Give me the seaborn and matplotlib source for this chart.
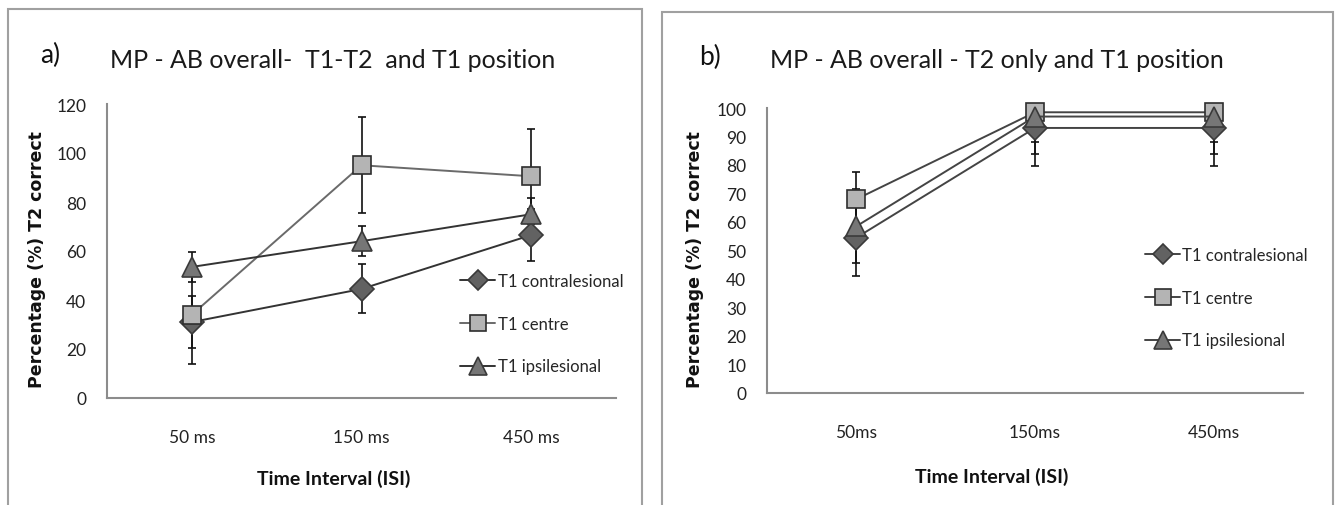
import matplotlib
matplotlib.use("Agg")
import matplotlib.pyplot as plt
import seaborn as sns
import pandas as pd
from matplotlib.patches import Rectangle

# ---------------- data ----------------
isi_a = ["50 ms", "150 ms", "450 ms"]
isi_b = ["50ms", "150ms", "450ms"]
series_names_a = ["T1 contralesional", "T1 centre", "T1 ipsilesional"]
series_names_b = ["T1 contralesional", "T1 centre", "T1 ipsilesional"]

a_contra = [31.0, 44.5, 66.5]
a_contra_err = [10.5, 10.0, 10.5]
a_centre = [34.0, 95.0, 90.5]
a_centre_err = [20.0, 19.6, 19.5]
a_ipsi = [53.5, 64.0, 75.0]
a_ipsi_err = [6.0, 6.2, 6.5]

b_contra = [54.5, 93.0, 93.0]
b_contra_err = [13.5, 13.5, 13.5]
b_centre = [68.0, 98.5, 98.5]
b_centre_err = [9.6, 10.3, 10.3]
b_ipsi = [58.5, 97.0, 97.0]
b_ipsi_err = [13.0, 13.0, 13.0]

yticks_a = [0, 20, 40, 60, 80, 100, 120]
yticks_b = [0, 10, 20, 30, 40, 50, 60, 70, 80, 90, 100]

title_a = "MP - AB overall-  T1-T2  and T1 position"
title_b = "MP - AB overall - T2 only and T1 position"
ylabel = "Percentage (%) T2 correct"
xlabel = "Time Interval (ISI)"

# ---------------- style ----------------
sns.set_theme(style="white")
MAIN = ["Lato", "DejaVu Sans"]
plt.rcParams["font.family"] = MAIN

W, H = 1341, 506
fig = plt.figure(figsize=(W / 100, H / 100), dpi=100)
fig.patch.set_facecolor("white")

def fx(px):
    return px / W

def fy(py):
    return 1 - py / H

# panel frames
for (x0, y0, x1) in [(8, 10, 642), (662, 13, 1333)]:
    fig.patches.append(Rectangle((fx(x0), fy(520)), fx(x1 - x0), (520 - y0) / H,
                                 transform=fig.transFigure, fill=False,
                                 edgecolor="#a0a0a0", linewidth=1.5, clip_on=False))

styles = [
    dict(marker="D", markersize=12.5, markerfacecolor="#626262", markeredgecolor="#3a3a3a"),
    dict(marker="s", markersize=13, markerfacecolor="#b4b4b4", markeredgecolor="#2e2e2e"),
    dict(marker="^", markersize=15, markerfacecolor="#767676", markeredgecolor="#3a3a3a"),
]
line_colors_a = ["#333333", "#6a6a6a", "#333333"]
line_colors_b = ["#444444", "#444444", "#444444"]


def draw_panel(ax, isi, names, vals, errs, line_colors, yticks, ymax):
    for name, v, e, st, lc in zip(names, vals, errs, styles, line_colors):
        ax.errorbar(isi, v, yerr=e, fmt="none", ecolor="#111111", elinewidth=1.2,
                    capsize=3.2, capthick=1.2, zorder=1)
        df = pd.DataFrame({"ISI": isi, "value": v})
        sns.lineplot(data=df, x="ISI", y="value", ax=ax, color=lc, linewidth=1.4,
                     sort=False, label=name, clip_on=False, markeredgewidth=1.2,
                     zorder=3, **st)
    ax.set_xlim(-0.5, 2.5)
    ax.set_ylim(0, ymax)
    ax.set_yticks(yticks)
    ax.tick_params(axis="both", length=0, labelsize=12.5, colors="#222222")
    ax.tick_params(axis="y", pad=15)
    ax.tick_params(axis="x", pad=22)
    for s in ["top", "right"]:
        ax.spines[s].set_visible(False)
    for s in ["left", "bottom"]:
        ax.spines[s].set_color("#8c8c8c")
        ax.spines[s].set_linewidth(1.5)
    ax.set_xlabel("")
    ax.set_ylabel("")
    ax.grid(False)
    leg = ax.get_legend()
    if leg is not None:
        leg.remove()


ax_a = fig.add_axes([fx(107), fy(399), fx(616 - 107), (399 - 105) / H])
draw_panel(ax_a, isi_a, series_names_a, [a_contra, a_centre, a_ipsi],
           [a_contra_err, a_centre_err, a_ipsi_err], line_colors_a, yticks_a, 120)

ax_b = fig.add_axes([fx(767), fy(394), fx(1303 - 767), (394 - 109) / H])
draw_panel(ax_b, isi_b, series_names_b, [b_contra, b_centre, b_ipsi],
           [b_contra_err, b_centre_err, b_ipsi_err], line_colors_b, yticks_b, 100)

# legends
for ax, (lx, ly) in [(ax_a, (460, 274)), (ax_b, (1145, 248))]:
    handles, labels = ax.get_legend_handles_labels()
    ax.legend(handles, labels, loc="upper left", bbox_to_anchor=(fx(lx), fy(ly)),
              bbox_transform=fig.transFigure, frameon=False, fontsize=12,
              handlelength=2.1, handletextpad=0.15, labelspacing=1.6,
              markerscale=0.85, borderpad=0, borderaxespad=0)

# titles and panel letters
fig.text(fx(110), fy(60), title_a, ha="left", va="center", fontsize=18, color="#1a1a1a")
fig.text(fx(770), fy(60), title_b, ha="left", va="center", fontsize=18, color="#1a1a1a")
fig.text(fx(50), fy(55), "a)", ha="center", va="center", fontsize=19, color="#111111")
fig.text(fx(710), fy(57), "b)", ha="center", va="center", fontsize=19, color="#111111")

# axis labels
for x in (37, 695):
    fig.text(fx(x), fy(260), ylabel, rotation=90, ha="center", va="center",
             fontsize=12.5, fontweight="bold", family=["DejaVu Sans"], color="#111111")
fig.text(fx(334), fy(479), xlabel, ha="center", va="center", fontsize=14,
         fontweight="bold", color="#111111")
fig.text(fx(992), fy(477), xlabel, ha="center", va="center", fontsize=14,
         fontweight="bold", color="#111111")

fig.savefig("out.png", dpi=100, facecolor="white")
